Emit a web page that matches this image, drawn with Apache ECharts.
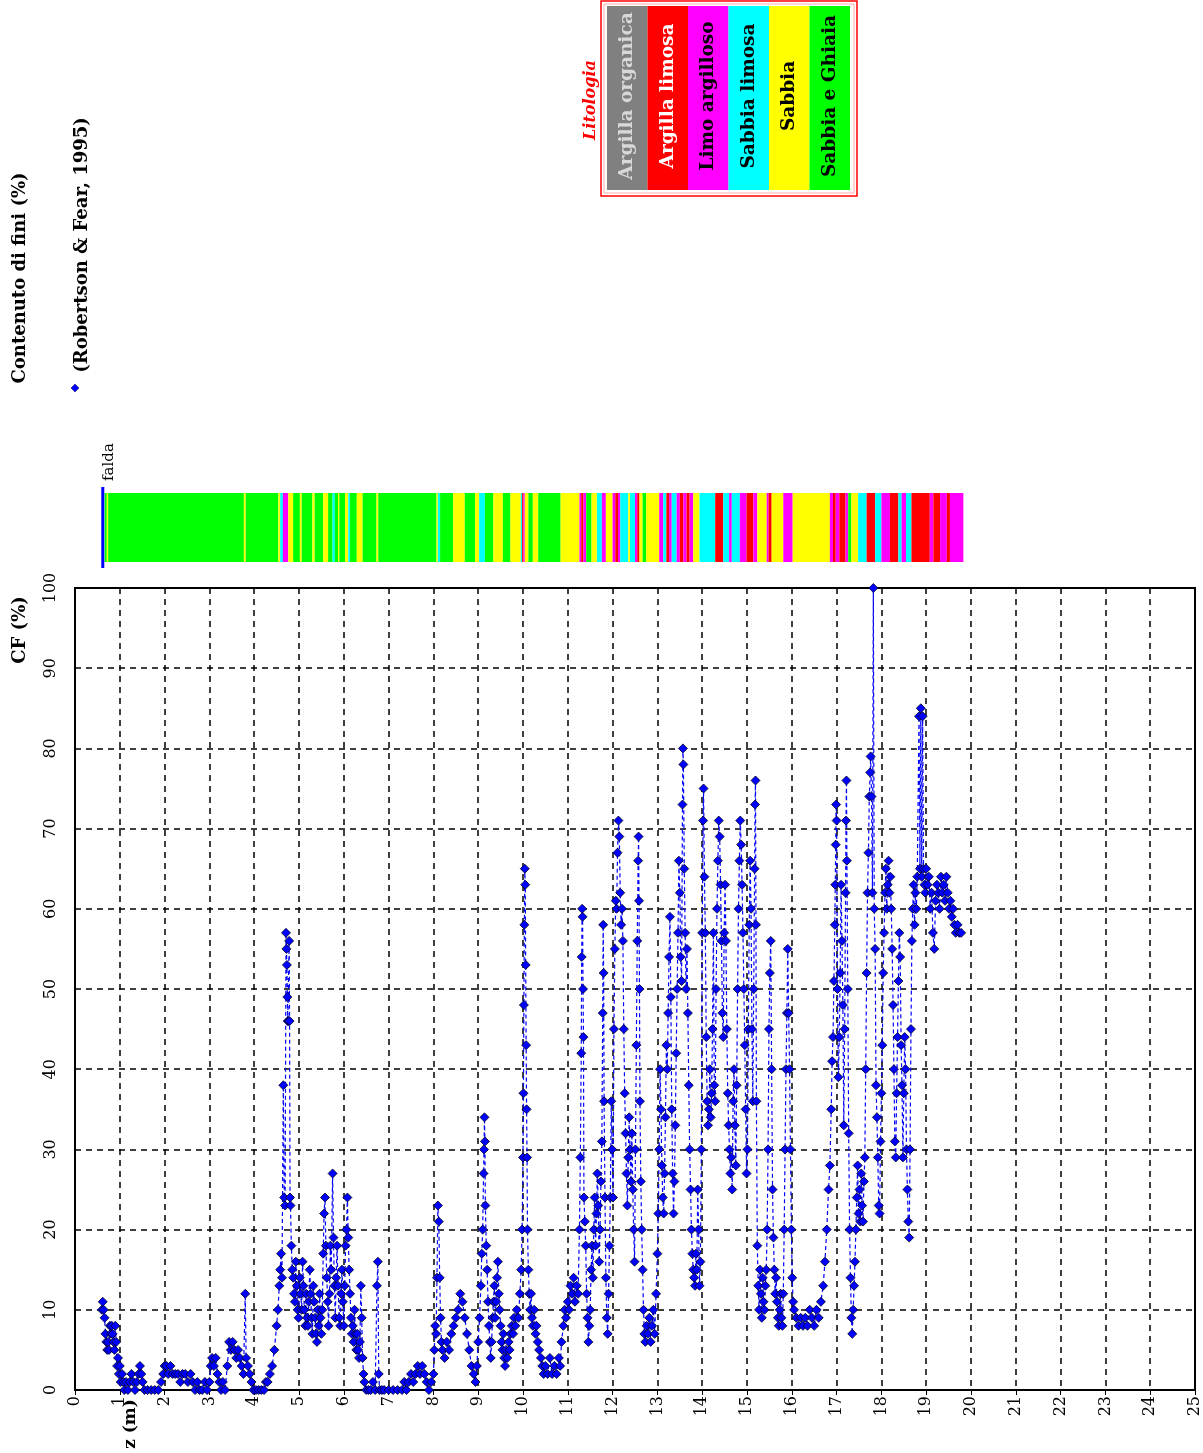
<!DOCTYPE html>
<html>
<head>
<meta charset="utf-8">
<script src="https://cdn.jsdelivr.net/npm/echarts@6/dist/echarts.min.js"></script>
<style>
html,body{margin:0;padding:0;background:#fff;}
#chart{width:1203px;height:1453px;}
</style>
</head>
<body>
<div id="chart"></div>
<script>
// ---- Data: fines content CF (%) vs depth z (m), Robertson & Fear 1995 ----
const cfSeg1 = [
[0.60,10],[0.62,11],[0.64,10],[0.66,9],[0.68,7],[0.70,6],[0.72,5],[0.74,6],[0.76,5],[0.78,8],[0.80,7],[0.82,8],[0.84,7],[0.86,6],[0.88,5],[0.90,8],[0.92,6],[0.94,3],[0.96,4],[0.98,2],[1.00,3],[1.02,1],[1.05,2],[1.08,1],[1.10,0],[1.14,1],[1.18,0],[1.22,1],[1.26,2],[1.30,1],[1.34,0],[1.38,1],[1.42,2],[1.45,3],[1.48,2],[1.51,1],[1.55,0],[1.62,0],[1.70,0],[1.78,0],[1.86,0],[1.92,1],[1.97,2],[2.00,3],[2.04,3],[2.08,2],[2.13,3],[2.18,2],[2.24,2],[2.30,2],[2.35,1],[2.40,2],[2.46,2],[2.52,1],[2.58,2],[2.63,1],[2.68,0],[2.73,1],[2.78,0],[2.84,0],[2.90,1],[2.95,0],[3.00,1],[3.03,3],[3.06,4],[3.10,3],[3.14,4],[3.18,2],[3.22,1],[3.26,0],[3.30,1],[3.35,0],[3.40,3],[3.44,6],[3.48,5],[3.52,6],[3.56,5],[3.60,4],[3.64,5],[3.68,4],[3.72,3],[3.76,2],[3.80,12],[3.82,4],[3.86,3],[3.90,2],[3.94,1],[3.98,0],[4.04,0],[4.10,0],[4.16,0],[4.22,0],[4.26,1],[4.30,1],[4.35,2],[4.40,3],[4.45,5],[4.50,8],[4.53,10],[4.56,13],[4.58,15],[4.60,17],[4.62,14],[4.65,38],[4.67,24],[4.69,23],[4.71,57],[4.72,55],[4.73,53],[4.74,49],[4.75,46],[4.76,46],[4.78,56],[4.79,46],[4.80,24],[4.81,23],[4.83,18],[4.85,15],[4.87,14],[4.89,12],[4.91,11],[4.93,16],[4.95,13],[4.97,10],[4.99,9]
];
const cfSeg2 = [
[5.02,14],[5.04,12],[5.06,10],[5.08,16],[5.10,13],[5.12,10],[5.14,8],[5.16,12],[5.18,9],[5.20,8],[5.22,11],[5.24,15],[5.26,12],[5.28,9],[5.30,7],[5.32,13],[5.34,11],[5.36,9],[5.38,7],[5.40,6],[5.42,10],[5.44,8],[5.46,12],[5.48,9],[5.50,7],[5.52,10],[5.54,17],[5.56,22],[5.58,24],[5.60,18],[5.62,14],[5.64,11],[5.66,8],[5.68,12],[5.70,18],[5.72,15],[5.75,27],[5.77,19],[5.79,13],[5.81,9],[5.83,14],[5.85,18],[5.87,13],[5.90,9],[5.92,8],[5.94,12],[5.96,15],[5.98,11],[6.00,8],[6.02,13],[6.04,18],[6.06,20],[6.08,24],[6.10,19],[6.12,15],[6.14,12],[6.16,9],[6.18,7],[6.20,8],[6.22,6],[6.24,10],[6.26,7],[6.28,5],[6.30,7],[6.32,5],[6.34,4],[6.36,6],[6.38,13],[6.40,9],[6.42,4],[6.44,2],[6.46,1],[6.50,0],[6.55,0],[6.60,0],[6.65,1],[6.70,0],[6.74,13],[6.76,16],[6.78,2],[6.80,0],[6.85,0],[6.90,0],[7.00,0],[7.10,0],[7.20,0],[7.30,0],[7.35,1],[7.40,0],[7.45,1],[7.50,2],[7.55,1],[7.60,2],[7.65,3],[7.70,2],[7.75,3],[7.80,2],[7.85,1],[7.90,0],[7.95,1],[8.00,2],[8.02,5],[8.04,8],[8.06,7],[8.08,14],[8.10,23],[8.12,21],[8.14,14],[8.16,9],[8.18,6],[8.20,5],[8.25,4],[8.30,6],[8.35,5],[8.40,7],[8.45,8],[8.50,9],[8.55,10],[8.60,12],[8.65,11],[8.70,9],[8.75,7],[8.80,5],[8.85,3],[8.90,2],[8.94,1],[8.97,3],[9.00,6],[9.03,9],[9.06,13],[9.08,17],[9.10,20],[9.12,27],[9.13,30],[9.14,34],[9.15,31],[9.16,23],[9.18,18],[9.20,15],[9.22,11],[9.24,8],[9.26,6],[9.28,4],[9.30,6],[9.32,9],[9.34,11],[9.36,13],[9.38,9],[9.40,11],[9.42,14],[9.44,16],[9.46,12],[9.48,10],[9.50,8],[9.52,6],[9.54,5],[9.56,7],[9.58,4],[9.60,3],[9.62,5],[9.65,4],[9.68,6],[9.70,5],[9.72,7],[9.75,8],[9.78,7],[9.80,9],[9.83,8],[9.86,10],[9.90,9],[9.93,12],[9.96,15],[9.98,20]
];
const cfSeg3 = [
[10.00,29],[10.01,37],[10.02,48],[10.03,58],[10.04,65],[10.05,63],[10.06,53],[10.07,43],[10.08,35],[10.09,29],[10.10,20],[10.12,15],[10.14,12],[10.16,10],[10.18,12],[10.20,9],[10.22,8],[10.25,10],[10.28,7],[10.30,8],[10.33,6],[10.36,5],[10.40,4],[10.43,3],[10.46,2],[10.50,3],[10.55,2],[10.60,4],[10.65,2],[10.70,3],[10.75,2],[10.80,4],[10.83,3],[10.86,6],[10.90,8],[10.93,10],[10.96,9],[11.00,11],[11.03,10],[11.06,13],[11.10,12],[11.13,14],[11.16,11],[11.20,13],[11.23,12],[11.26,20],[11.28,29],[11.30,42],[11.31,54],[11.32,60],[11.33,59],[11.34,50],[11.35,44],[11.36,24],[11.38,21],[11.40,18],[11.42,12],[11.44,9],[11.46,6],[11.48,8],[11.50,10],[11.52,15],[11.54,18],[11.56,14],[11.58,20],[11.60,24],[11.62,18],[11.64,22],[11.66,27],[11.68,23],[11.70,16],[11.72,20],[11.74,26],[11.76,31],[11.78,47],[11.79,58],[11.80,52],[11.81,36],[11.83,24],[11.85,14],[11.87,9],[11.89,7],[11.91,12],[11.93,18],[11.95,24],[11.97,36],[11.99,30],[12.01,24],[12.03,45],[12.05,55],[12.07,61],[12.09,60],[12.11,67],[12.13,71],[12.15,69],[12.17,62],[12.19,58],[12.21,60],[12.23,56],[12.25,45],[12.27,37],[12.29,32],[12.31,27],[12.33,23],[12.35,29],[12.37,34],[12.39,30],[12.41,26],[12.43,32],[12.45,25],[12.47,20],[12.49,16],[12.51,30],[12.53,43],[12.55,56],[12.57,66],[12.58,69],[12.59,61],[12.60,50],[12.61,36],[12.63,26],[12.65,20],[12.67,15],[12.69,10],[12.71,7],[12.73,6],[12.76,8],[12.79,7],[12.82,9],[12.85,6],[12.88,8],[12.91,10],[12.94,7],[12.97,12],[13.00,17],[13.02,22],[13.04,30],[13.06,40],[13.08,35],[13.10,28],[13.12,24],[13.14,22],[13.16,27],[13.18,34],[13.20,43],[13.22,40],[13.24,47],[13.26,54],[13.28,59],[13.30,49],[13.32,35],[13.34,27],[13.36,22],[13.38,26],[13.40,33],[13.42,42],[13.44,50],[13.46,57],[13.48,66],[13.50,62],[13.52,54],[13.54,51],[13.56,73],[13.57,80],[13.58,78],[13.60,65],[13.62,57],[13.64,50],[13.66,55],[13.68,47],[13.70,38],[13.72,30],[13.74,25],[13.76,20],[13.78,17],[13.80,15],[13.82,14],[13.84,13],[13.86,17],[13.88,15],[13.90,25],[13.92,20],[13.94,13],[13.96,16],[13.98,30],[14.00,57],[14.02,71],[14.03,75],[14.05,64],[14.07,57],[14.09,44],[14.11,36],[14.13,33],[14.15,35],[14.17,40],[14.19,34],[14.21,37],[14.23,45],[14.25,57],[14.27,38],[14.29,36],[14.31,50],[14.33,60],[14.35,66],[14.37,71],[14.39,69],[14.41,63],[14.43,56],[14.45,47],[14.47,44],[14.49,57],[14.51,63],[14.53,56],[14.55,45],[14.57,37],[14.59,33],[14.61,30],[14.63,27],[14.65,29],[14.67,25],[14.69,36],[14.71,40],[14.73,33],[14.75,28],[14.77,38],[14.79,50],[14.81,60],[14.83,66],[14.85,71],[14.87,68],[14.89,63],[14.91,57],[14.93,50],[14.95,43],[14.97,35],[14.99,27]
];
const cfSeg4 = [
[15.01,30],[15.03,45],[15.05,58],[15.07,66],[15.09,60],[15.11,45],[15.13,36],[15.15,50],[15.17,65],[15.18,73],[15.19,76],[15.20,58],[15.21,36],[15.23,18],[15.25,13],[15.27,10],[15.29,15],[15.31,12],[15.33,9],[15.35,14],[15.37,11],[15.39,10],[15.41,13],[15.43,15],[15.45,20],[15.47,30],[15.49,45],[15.51,52],[15.53,56],[15.55,40],[15.57,25],[15.59,19],[15.61,15],[15.63,12],[15.65,14],[15.67,11],[15.69,9],[15.71,8],[15.73,10],[15.75,12],[15.77,9],[15.79,8],[15.81,12],[15.83,20],[15.85,30],[15.87,40],[15.89,47],[15.91,55],[15.93,47],[15.95,40],[15.97,30],[15.99,20],[16.01,14],[16.03,11],[16.05,10],[16.10,9],[16.15,8],[16.20,9],[16.25,8],[16.30,9],[16.35,8],[16.40,10],[16.45,9],[16.50,8],[16.55,10],[16.60,9],[16.65,11],[16.70,13],[16.74,16],[16.78,20],[16.82,25],[16.85,28],[16.88,35],[16.90,41],[16.92,44],[16.94,51],[16.96,58],[16.97,63],[16.98,68],[16.99,73],[17.00,71],[17.02,50],[17.04,39],[17.06,44],[17.08,52],[17.10,63],[17.12,56],[17.14,48],[17.16,33],[17.18,45],[17.20,62],[17.21,71],[17.22,76],[17.23,66],[17.25,50],[17.27,32],[17.29,20],[17.31,14],[17.33,9],[17.35,7],[17.37,10],[17.39,13],[17.41,16],[17.43,20],[17.45,24],[17.47,28],[17.49,22],[17.51,25],[17.53,21],[17.55,27],[17.57,23],[17.59,21],[17.61,26],[17.63,29],[17.65,40],[17.67,52],[17.69,62],[17.71,67],[17.73,74],[17.75,77],[17.76,79],[17.78,74],[17.80,62],[17.82,100],[17.84,60],[17.86,55],[17.88,38],[17.90,34],[17.92,29],[17.94,23],[17.96,22],[17.98,31],[18.00,37],[18.02,43],[18.04,52],[18.06,57],[18.08,62],[18.10,65],[18.12,60],[18.14,63],[18.16,66],[18.18,62],[18.20,64],[18.22,60],[18.24,55],[18.26,48],[18.28,40],[18.30,31],[18.32,29],[18.34,37],[18.36,44],[18.38,51],[18.40,57],[18.42,54],[18.44,43],[18.46,38],[18.48,29],[18.50,37],[18.52,44],[18.54,40],[18.56,30],[18.58,25],[18.60,21],[18.62,19],[18.64,30],[18.66,45],[18.68,56],[18.70,60],[18.72,63],[18.74,58],[18.76,62],[18.78,60],[18.80,64],[18.84,84],[18.86,65],[18.88,85],[18.90,64],[18.92,84],[18.94,65],[18.96,63],[18.98,62],[19.00,65],[19.03,63],[19.06,64],[19.09,60],[19.12,62],[19.15,57],[19.18,55],[19.21,61],[19.24,63],[19.27,62],[19.30,60],[19.33,64],[19.36,62],[19.39,63],[19.42,61],[19.45,64],[19.48,62],[19.51,60],[19.54,61],[19.57,59],[19.60,60],[19.63,58],[19.66,57],[19.70,58],[19.74,57],[19.78,57]
];

// Lithology classes (legend) and colours
const litoNames = ['Argilla organica','Argilla limosa','Limo argilloso','Sabbia limosa','Sabbia','Sabbia e Ghiaia'];
const litoColors = ['#808080','#ff0000','#ff00ff','#00ffff','#ffff00','#00ff00'];
const litoTextColors = ['#d8d8d8','#ffffff','#000000','#000000','#000000','#000000'];
// Lithology intervals: [from z, to z, class index]
const litoLayers = [
[0.66,0.71,5],[0.71,0.74,4],[0.74,3.77,5],[3.77,3.81,4],[3.81,4.54,5],[4.54,4.58,4],[4.58,4.64,3],[4.64,4.76,2],[4.76,4.87,4],[4.87,5.02,5],[5.02,5.06,4],[5.06,5.30,5],[5.30,5.35,4],[5.35,5.54,5],[5.54,5.65,4],[5.65,5.75,5],[5.75,5.80,3],[5.80,5.87,5],[5.87,5.90,4],[5.90,6.03,5],[6.03,6.10,4],[6.10,6.14,3],[6.14,6.29,5],[6.29,6.42,4],[6.42,6.73,5],[6.73,6.77,4],[6.77,8.07,5],[8.07,8.10,4],[8.10,8.15,3],[8.15,8.44,5],[8.44,8.70,4],[8.70,8.93,5],[8.93,9.02,4],[9.02,9.15,3],[9.15,9.34,5],[9.34,9.55,4],[9.55,9.72,5],[9.72,9.95,4],[9.95,9.98,3],[9.98,10.01,1],[10.01,10.04,2],[10.04,10.12,4],[10.12,10.22,5],[10.22,10.34,4],[10.34,10.84,5],[10.84,11.26,4],[11.26,11.30,2],[11.30,11.35,1],[11.35,11.41,2],[11.41,11.53,5],[11.53,11.65,4],[11.65,11.76,3],[11.76,11.85,2],[11.85,12.00,4],[12.00,12.06,2],[12.06,12.12,1],[12.12,12.17,2],[12.17,12.35,3],[12.35,12.39,4],[12.39,12.50,3],[12.50,12.55,2],[12.55,12.60,1],[12.60,12.67,4],[12.67,12.75,5],[12.75,13.04,4],[13.04,13.13,2],[13.13,13.20,3],[13.20,13.26,1],[13.26,13.32,2],[13.32,13.43,3],[13.43,13.50,2],[13.50,13.58,1],[13.58,13.65,2],[13.65,13.72,1],[13.72,13.80,2],[13.80,13.94,4],[13.94,14.29,3],[14.29,14.47,1],[14.47,14.60,3],[14.60,14.66,2],[14.66,14.84,3],[14.84,14.99,2],[14.99,15.14,1],[15.14,15.23,2],[15.23,15.44,4],[15.44,15.48,2],[15.48,15.55,1],[15.55,15.81,4],[15.81,16.02,2],[16.02,16.85,4],[16.85,16.92,2],[16.92,16.98,1],[16.98,17.06,2],[17.06,17.20,1],[17.20,17.26,2],[17.26,17.33,5],[17.33,17.48,4],[17.48,17.67,3],[17.67,17.86,1],[17.86,18.00,3],[18.00,18.19,2],[18.19,18.38,1],[18.38,18.45,3],[18.45,18.55,2],[18.55,18.67,3],[18.67,19.08,1],[19.08,19.16,2],[19.16,19.31,1],[19.31,19.46,2],[19.46,19.53,1],[19.53,19.83,2]
];
const faldaDepth = 0.62;

// Axis settings
const zMin = 0, zMax = 25, zStep = 1;
const cfMin = 0, cfMax = 100, cfStep = 10;

const cfData = [].concat(cfSeg1, cfSeg2, cfSeg3, cfSeg4);

const serif = '"DejaVu Serif", "Liberation Serif", serif';
const chart = echarts.init(document.getElementById('chart'), null, {renderer: 'canvas'});

const R = Math.PI / 2;
function vtext(x, y, text, opt) {
  return {
    type: 'text', x: x, y: y, rotation: R,
    style: Object.assign({
      text: text, fontFamily: serif, fontSize: 15, fontWeight: 'bold', fill: '#000',
      align: 'center', verticalAlign: 'middle'
    }, opt || {})
  };
}

const legendEls = [];
legendEls.push({type: 'rect', shape: {x: 601, y: 1, width: 256, height: 195}, style: {fill: '#fff', stroke: '#ff0000', lineWidth: 1.5}});
legendEls.push({type: 'rect', shape: {x: 604, y: 4, width: 250, height: 189}, style: {fill: 'none', stroke: '#ff9999', lineWidth: 0.8}});
litoNames.forEach(function (n, i) {
  const x0 = 607 + i * 40.5;
  legendEls.push({type: 'rect', shape: {x: x0, y: 6, width: 40.5, height: 184}, style: {fill: litoColors[i]}});
  legendEls.push(vtext(x0 + 20.5, 96, n, {fill: litoTextColors[i], fontSize: 18.5}));
});
legendEls.push(vtext(591, 100, 'Litologia', {fill: '#ff0000', fontStyle: 'italic', fontWeight: 'bold', fontSize: 16}));

const option = {
  animation: false,
  backgroundColor: '#fff',
  grid: [
    {left: 75, top: 588, width: 1120, height: 802, show: true, borderColor: '#000', borderWidth: 2, backgroundColor: 'transparent'},
    {left: 75, top: 493, width: 1120, height: 69}
  ],
  xAxis: [
    {
      type: 'value', gridIndex: 0, min: zMin, max: zMax, interval: zStep, position: 'bottom',
      axisLine: {show: true, onZero: false, lineStyle: {color: '#000', width: 2}},
      axisTick: {show: true, length: 5, lineStyle: {color: '#000', width: 1}},
      axisLabel: {rotate: 90, fontFamily: serif, fontSize: 16, color: '#000', margin: 6},
      splitLine: {show: true, lineStyle: {color: '#000', width: 1.5, type: [6, 5]}}
    },
    {type: 'value', gridIndex: 1, min: zMin, max: zMax, show: false}
  ],
  yAxis: [
    {
      type: 'value', gridIndex: 0, min: cfMin, max: cfMax, interval: cfStep,
      axisLine: {show: true, onZero: false, lineStyle: {color: '#000', width: 2}},
      axisTick: {show: false},
      axisLabel: {rotate: 90, fontFamily: serif, fontSize: 16, color: '#000', margin: 16},
      splitLine: {show: true, lineStyle: {color: '#000', width: 1.5, type: [6, 5]}}
    },
    {type: 'value', gridIndex: 1, min: 0, max: 1, show: false}
  ],
  series: [
    {
      type: 'custom', xAxisIndex: 1, yAxisIndex: 1, data: litoLayers,
      encode: {x: [0, 1]},
      renderItem: function (params, api) {
        const p0 = api.coord([api.value(0), 1]);
        const p1 = api.coord([api.value(1), 0]);
        return {type: 'rect', shape: {x: p0[0], y: p0[1], width: p1[0] - p0[0], height: p1[1] - p0[1]},
          style: {fill: litoColors[api.value(2)], stroke: null}};
      }
    },
    {
      type: 'custom', xAxisIndex: 1, yAxisIndex: 1, data: [[faldaDepth]],
      encode: {x: 0},
      renderItem: function (params, api) {
        const top = api.coord([api.value(0), 1]);
        const bot = api.coord([api.value(0), 0]);
        return {type: 'group', children: [
          {type: 'line', shape: {x1: top[0], y1: top[1] - 6, x2: bot[0], y2: bot[1] + 6}, style: {stroke: '#0000ff', lineWidth: 3}},
          {type: 'text', x: top[0] + 6, y: top[1] - 12, rotation: R,
            style: {text: 'falda', fontFamily: serif, fontSize: 15, fill: '#000', align: 'left', verticalAlign: 'middle'}}
        ]};
      }
    },
    {
      type: 'line', xAxisIndex: 0, yAxisIndex: 0, data: cfData,
      symbol: 'diamond', symbolSize: 9, showAllSymbol: true,
      itemStyle: {color: '#0000ff', borderColor: '#000020', borderWidth: 0.8},
      lineStyle: {color: '#0000ff', width: 1.2, type: [4, 3]},
      z: 3
    }
  ],
  graphic: [
    vtext(20, 278, 'Contenuto di fini (%)', {fontSize: 18}),
    vtext(82, 245, '(Robertson & Fear, 1995)', {fontSize: 18}),
    {type: 'polygon', shape: {points: [[75, 384], [79, 388], [75, 392], [71, 388]]}, style: {fill: '#0000ff', stroke: '#000040', lineWidth: 0.5}},
    vtext(20, 630, 'CF (%)', {fontSize: 18}),
    vtext(131, 1424, 'z (m)', {fontSize: 17})
  ].concat(legendEls)
};
chart.setOption(option);
</script>
</body>
</html>
